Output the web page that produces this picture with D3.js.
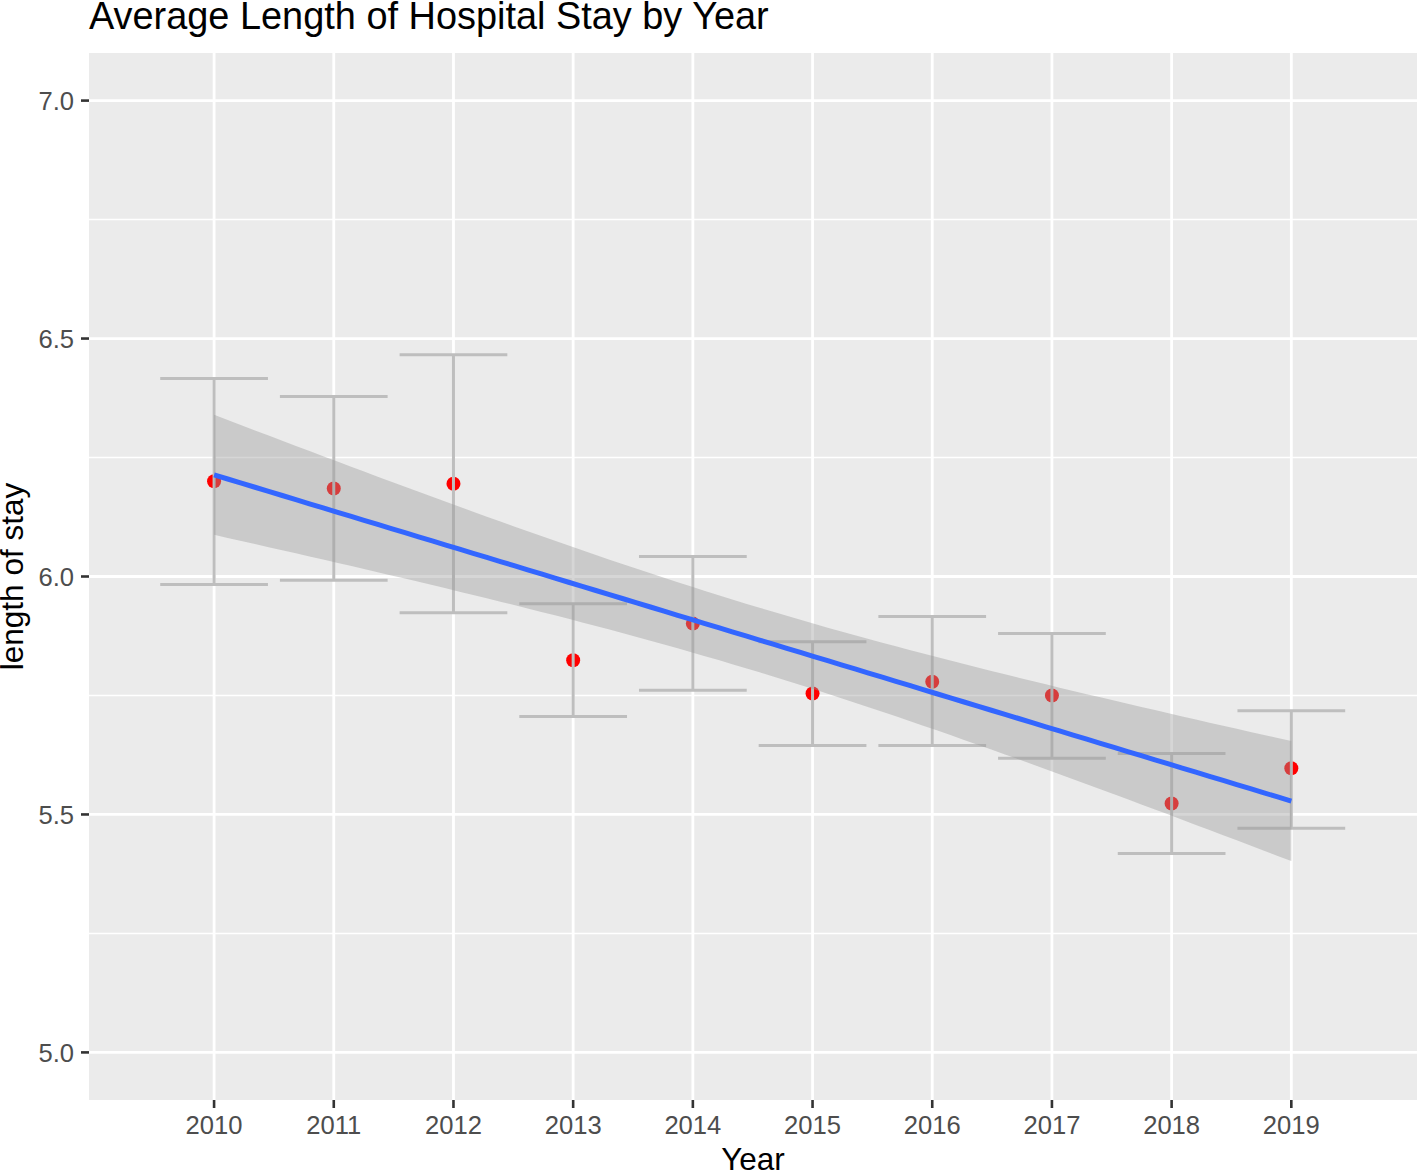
<!DOCTYPE html>
<html>
<head>
<meta charset="utf-8">
<script src="https://cdn.jsdelivr.net/npm/d3@7"></script>
<style>
  html, body { margin: 0; padding: 0; background: #ffffff; }
  svg { display: block; font-family: "Liberation Sans", Arial, sans-serif; }
</style>
</head>
<body>
<svg id="chart" width="1424" height="1172"></svg>
<script>
// ---- Data ----
const years = [2010, 2011, 2012, 2013, 2014, 2015, 2016, 2017, 2018, 2019];
const meanStay = [6.200, 6.185, 6.195, 5.824, 5.901, 5.754, 5.779, 5.750, 5.523, 5.597];
const upperStay = [6.416, 6.378, 6.466, 5.943, 6.042, 5.863, 5.916, 5.880, 5.628, 5.718];
const lowerStay = [5.983, 5.992, 5.924, 5.706, 5.761, 5.645, 5.645, 5.618, 5.418, 5.471];
const yTicks = [5.0, 5.5, 6.0, 6.5, 7.0];
const yMinor = [5.25, 5.75, 6.25, 6.75];
const titleText = "Average Length of Hospital Stay by Year";
const xTitle = "Year";
const yTitle = "length of stay";

// ---- Layout ----
const panel = { left: 89, top: 53, right: 1417, bottom: 1100 };
const svg = d3.select("#chart");

const x = d3.scaleLinear().domain([2008.955, 2020.05]).range([panel.left, panel.right]);
const y = d3.scaleLinear().domain([4.9, 7.1]).range([panel.bottom, panel.top]);

// panel background
svg.append("rect")
  .attr("x", panel.left).attr("y", panel.top)
  .attr("width", panel.right - panel.left).attr("height", panel.bottom - panel.top)
  .attr("fill", "#EBEBEB");

// minor gridlines
svg.append("g").selectAll("line").data(yMinor).join("line")
  .attr("x1", panel.left).attr("x2", panel.right)
  .attr("y1", d => y(d)).attr("y2", d => y(d))
  .attr("stroke", "#ffffff").attr("stroke-width", 1.4);

// major gridlines
svg.append("g").selectAll("line").data(yTicks).join("line")
  .attr("x1", panel.left).attr("x2", panel.right)
  .attr("y1", d => y(d)).attr("y2", d => y(d))
  .attr("stroke", "#ffffff").attr("stroke-width", 2.8);
svg.append("g").selectAll("line").data(years).join("line")
  .attr("x1", d => x(d)).attr("x2", d => x(d))
  .attr("y1", panel.top).attr("y2", panel.bottom)
  .attr("stroke", "#ffffff").attr("stroke-width", 2.8);

const rows = years.map((yr, i) => ({ yr, m: meanStay[i], hi: upperStay[i], lo: lowerStay[i] }));

// points
svg.append("g").selectAll("circle").data(rows).join("circle")
  .attr("cx", d => x(d.yr)).attr("cy", d => y(d.m))
  .attr("r", 7).attr("fill", "#FF0000");

// error bars
const eb = svg.append("g").attr("stroke", "#BEBEBE").attr("stroke-width", 3).attr("fill", "none");
const halfW = 0.45;
rows.forEach(d => {
  eb.append("line").attr("x1", x(d.yr)).attr("x2", x(d.yr)).attr("y1", y(d.hi)).attr("y2", y(d.lo));
  eb.append("line").attr("x1", x(d.yr - halfW)).attr("x2", x(d.yr + halfW)).attr("y1", y(d.hi)).attr("y2", y(d.hi));
  eb.append("line").attr("x1", x(d.yr - halfW)).attr("x2", x(d.yr + halfW)).attr("y1", y(d.lo)).attr("y2", y(d.lo));
});

// linear fit (lm) with 95% confidence band, like geom_smooth(method = "lm")
const n = years.length;
const xbar = d3.mean(years), ybar = d3.mean(meanStay);
const sxx = d3.sum(years, v => (v - xbar) ** 2);
const sxy = d3.sum(years.map((v, i) => (v - xbar) * (meanStay[i] - ybar)));
const slope = sxy / sxx, intercept = ybar - slope * xbar;
const sse = d3.sum(years.map((v, i) => (meanStay[i] - (intercept + slope * v)) ** 2));
const s = Math.sqrt(sse / (n - 2));
const tq = 2.306004; // t(0.975, df = 8)
const grid = d3.range(80).map(k => years[0] + (years[n - 1] - years[0]) * k / 79);
const fit = grid.map(g => {
  const f = intercept + slope * g;
  const se = s * Math.sqrt(1 / n + (g - xbar) ** 2 / sxx);
  return { g, f, lo: f - tq * se, hi: f + tq * se };
});

svg.append("path").datum(fit)
  .attr("d", d3.area().x(d => x(d.g)).y0(d => y(d.lo)).y1(d => y(d.hi)))
  .attr("fill", "#999999").attr("fill-opacity", 0.4);

svg.append("path").datum(fit)
  .attr("d", d3.line().x(d => x(d.g)).y(d => y(d.f)))
  .attr("fill", "none").attr("stroke", "#3366FF").attr("stroke-width", 5);

// axes ticks
const tickCol = "#333333", labCol = "#4D4D4D";
svg.append("g").selectAll("line").data(yTicks).join("line")
  .attr("x1", panel.left - 8).attr("x2", panel.left)
  .attr("y1", d => y(d)).attr("y2", d => y(d))
  .attr("stroke", tickCol).attr("stroke-width", 2.6);
svg.append("g").selectAll("text").data(yTicks).join("text")
  .attr("x", panel.left - 15).attr("y", d => y(d))
  .attr("dy", "0.36em").attr("text-anchor", "end")
  .attr("font-size", 25.6).attr("fill", labCol)
  .text(d => d3.format(".1f")(d));

svg.append("g").selectAll("line").data(years).join("line")
  .attr("x1", d => x(d)).attr("x2", d => x(d))
  .attr("y1", panel.bottom).attr("y2", panel.bottom + 8)
  .attr("stroke", tickCol).attr("stroke-width", 2.6);
svg.append("g").selectAll("text").data(years).join("text")
  .attr("x", d => x(d)).attr("y", panel.bottom + 34)
  .attr("text-anchor", "middle")
  .attr("font-size", 25.6).attr("fill", labCol)
  .text(d => d);

// titles
svg.append("text").attr("x", panel.left).attr("y", 29)
  .attr("font-size", 37.9).attr("fill", "#000000").text(titleText);
svg.append("text").attr("x", (panel.left + panel.right) / 2).attr("y", 1170)
  .attr("text-anchor", "middle").attr("font-size", 31.5).attr("fill", "#000000").text(xTitle);
svg.append("text")
  .attr("transform", `translate(23, ${(panel.top + panel.bottom) / 2}) rotate(-90)`)
  .attr("text-anchor", "middle").attr("font-size", 31.5).attr("fill", "#000000").text(yTitle);
</script>
</body>
</html>
